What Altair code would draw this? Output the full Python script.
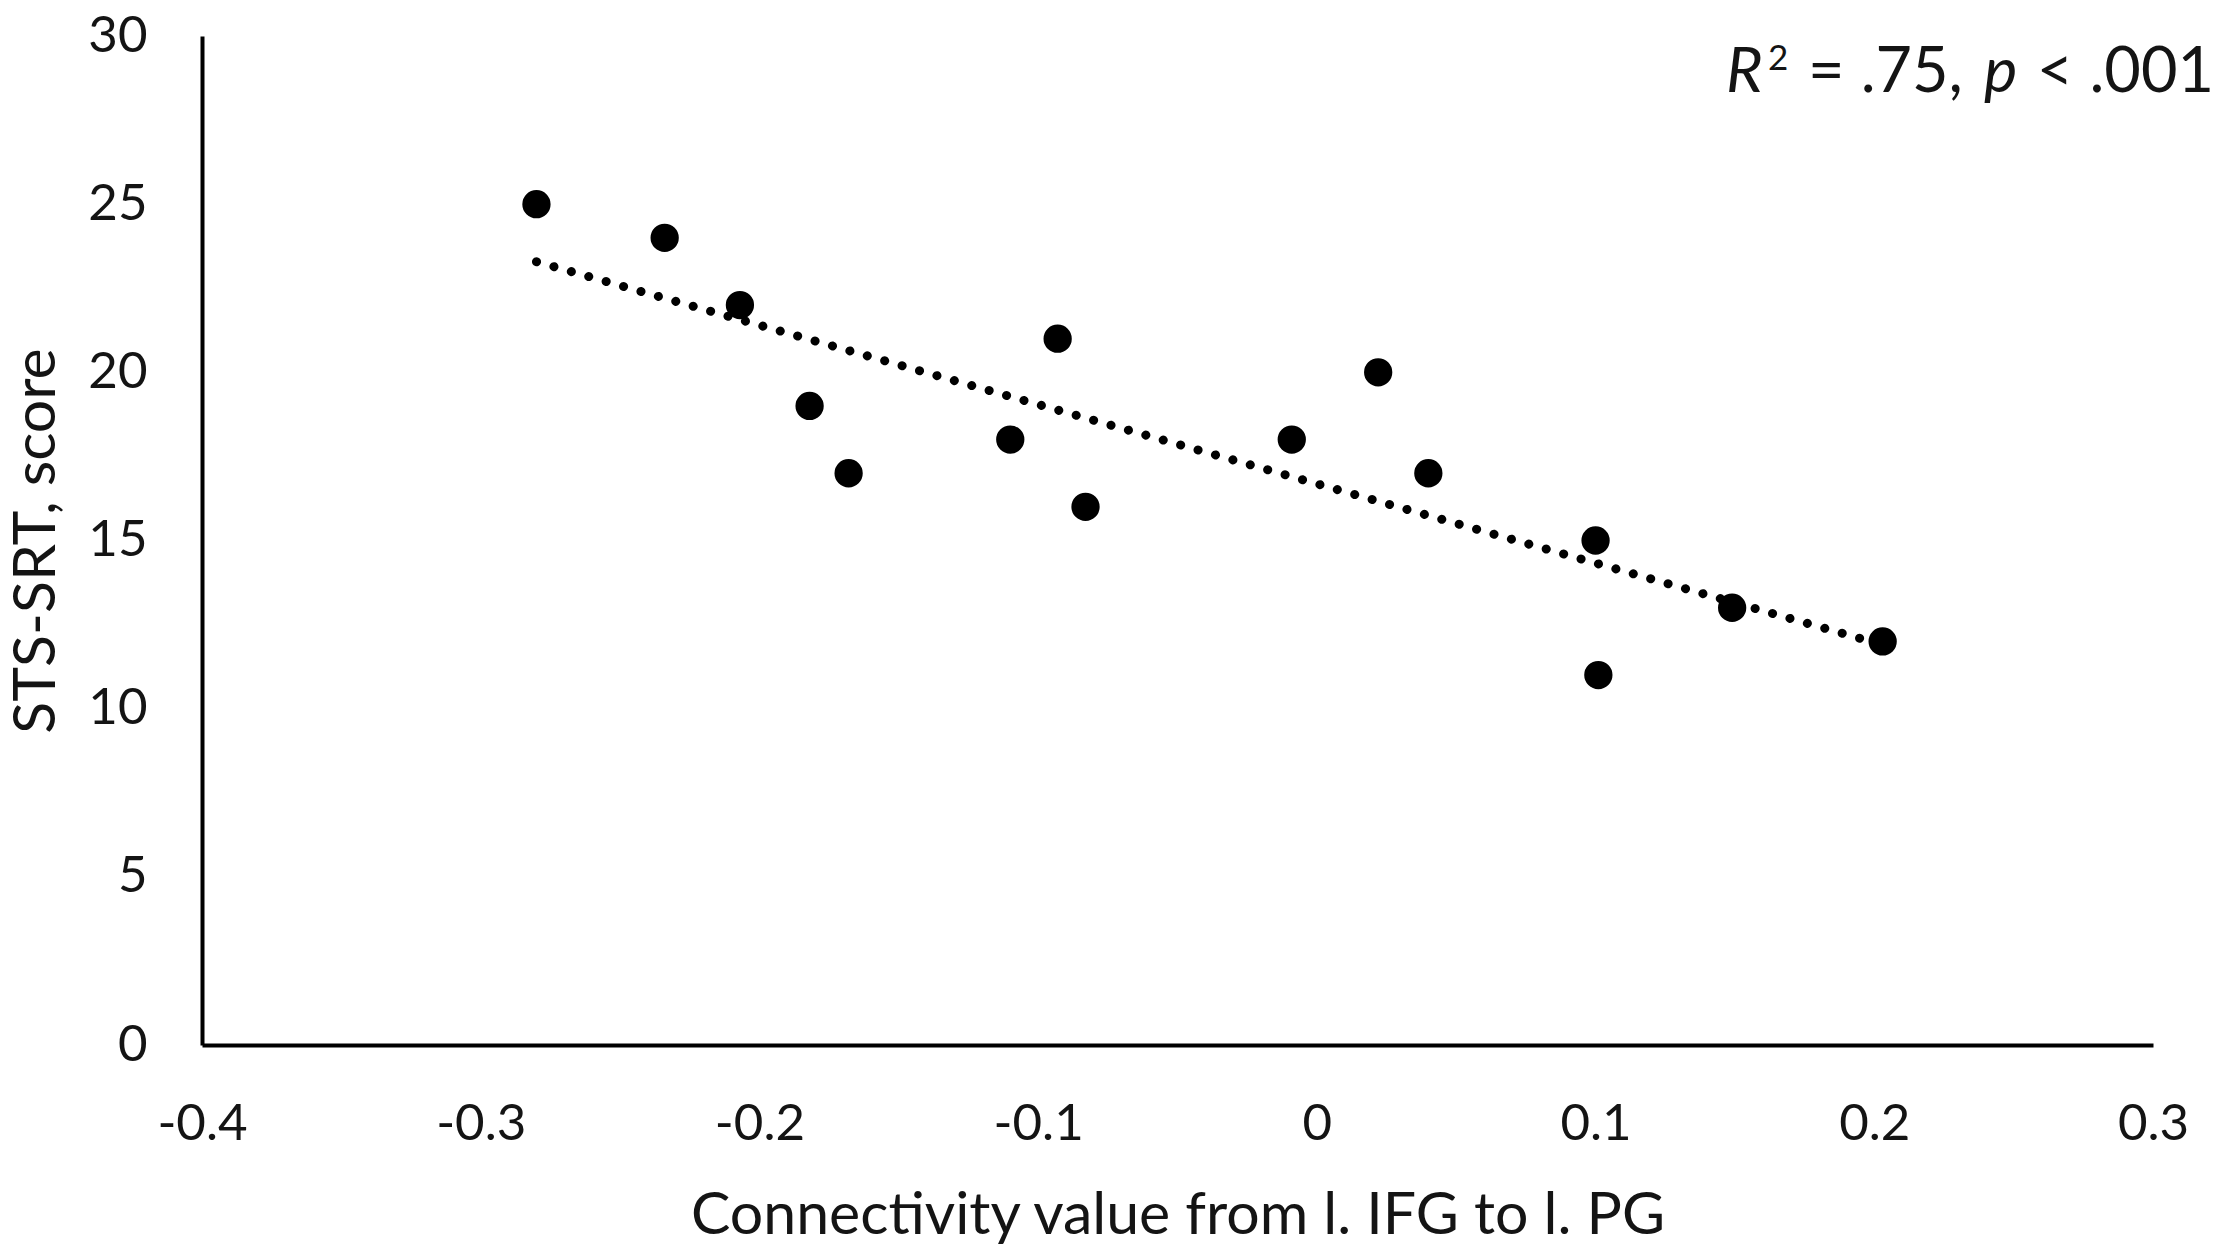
import altair as alt
import pandas as pd

# Data
connectivity = [-0.280, -0.234, -0.207, -0.182, -0.168, -0.110, -0.093, -0.083,
                -0.009, 0.022, 0.040, 0.100, 0.101, 0.149, 0.203]
sts_srt = [25, 24, 22, 19, 17, 18, 21, 16, 18, 20, 17, 15, 11, 13, 12]

x_ticks = [-0.4, -0.3, -0.2, -0.1, 0, 0.1, 0.2, 0.3]
y_ticks = [0, 5, 10, 15, 20, 25, 30]

x_title = "Connectivity value from l. IFG to l. PG"
y_title = "STS-SRT, score"

df = pd.DataFrame({"x": connectivity, "y": sts_srt})

FONT = "Lato"
INK = "#141414"

xs = alt.X("x:Q", scale=alt.Scale(domain=[-0.4, 0.3], nice=False, zero=False),
           axis=alt.Axis(title=x_title, values=x_ticks,
                         labelExpr="toString(round(datum.value*10)/10)",
                         labelFlush=False, labelOverlap=False, labelBound=False,
                         labelPadding=54, titlePadding=37))
ys = alt.Y("y:Q", scale=alt.Scale(domain=[0, 30], nice=False),
           axis=alt.Axis(title=y_title, values=y_ticks,
                         labelFlush=False, labelOverlap=False,
                         labelPadding=55, titlePadding=21))

base = alt.Chart(df)

points = base.mark_circle(size=800, color="black", opacity=1).encode(x=xs, y=ys)

trend = base.transform_regression("x", "y").mark_line(
    color="black", strokeWidth=9, strokeDash=[0.1, 18], strokeCap="round"
).encode(x="x:Q", y="y:Q")

ann = alt.Chart(pd.DataFrame({"a": [0]}))
main_size = 63
t_R = ann.mark_text(text="R", font=FONT, fontStyle="italic", fontSize=main_size,
                    align="left", baseline="alphabetic", color=INK,
                    x=1524, y=56).encode(opacity=alt.value(1))
t_2 = ann.mark_text(text="2", font=FONT, fontSize=35,
                    align="left", baseline="alphabetic", color=INK,
                    x=1566, y=34).encode(opacity=alt.value(1))
t_eq = ann.mark_text(text="= .75,", font=FONT, fontSize=main_size,
                     align="left", baseline="alphabetic", color=INK,
                     x=1606, y=56).encode(opacity=alt.value(1))
t_p = ann.mark_text(text="p", font=FONT, fontStyle="italic", fontSize=main_size,
                    align="left", baseline="alphabetic", color=INK,
                    x=1782, y=56).encode(opacity=alt.value(1))
t_lt = ann.mark_text(text="< .001", font=FONT, fontSize=main_size,
                     align="right", baseline="alphabetic", color=INK,
                     x=2012, y=56).encode(opacity=alt.value(1))

chart = alt.layer(points, trend, t_R, t_2, t_eq, t_p, t_lt).properties(
    width=1951, height=1009,
    autosize=alt.AutoSizeParams(type="none"),
    padding={"left": 194, "top": 28, "right": 60, "bottom": 207},
    background="white",
).configure_view(stroke=None).configure_axis(
    grid=False, ticks=False, tickSize=0,
    domainColor="black", domainWidth=4,
    labelFont=FONT, labelFontSize=51, labelColor=INK,
    titleFont=FONT, titleFontSize=59, titleColor=INK, titleFontWeight="normal",
)

chart.save("out.html", embed_options={"renderer": "svg", "actions": False})
